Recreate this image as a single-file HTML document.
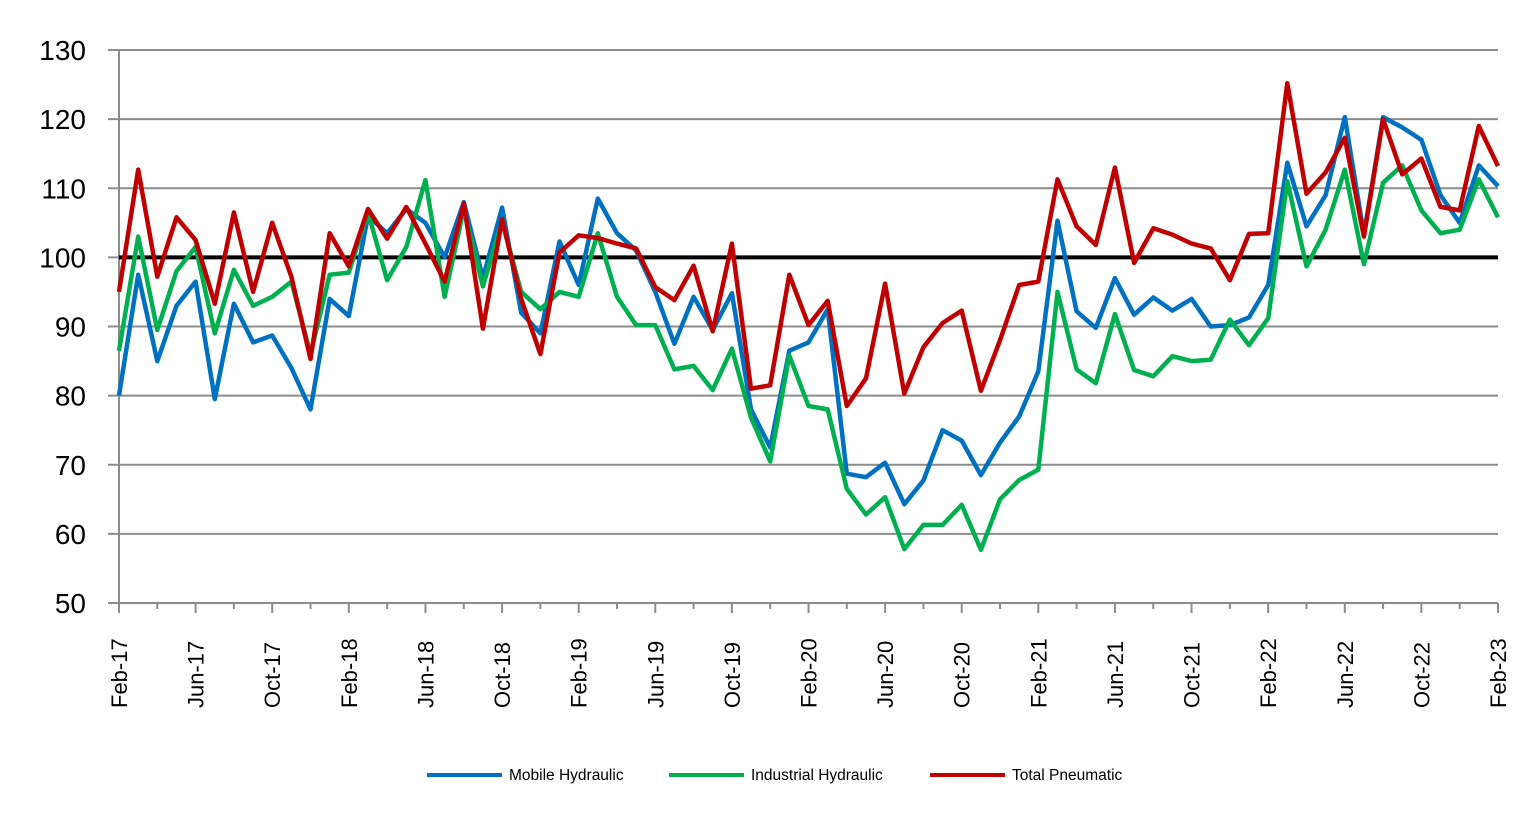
<!DOCTYPE html>
<html><head><meta charset="utf-8"><style>
html,body{margin:0;padding:0;background:#fff;}
svg{display:block;font-family:"Liberation Sans",sans-serif;}
</style></head><body>
<svg id="c" width="1540" height="814" xmlns="http://www.w3.org/2000/svg"></svg>
<script>
const blue=[80,97.5,85,93,96.5,79.5,93.3,87.7,88.7,84,78,94,91.5,106,103.5,107,105,100,108,97,107.2,92,89,102.3,96,108.5,103.5,101,95,87.5,94.3,89.5,94.8,78,72.5,86.5,87.7,92.5,68.7,68.2,70.3,64.3,67.7,75,73.5,68.5,73.2,77,83.5,105.3,92.2,89.8,97,91.7,94.2,92.3,94,90,90.2,91.3,96,113.7,104.5,109,120.3,103.3,120.3,118.8,117,109,105,113.3,110.3];
const green=[86.5,103,89.5,98,101.5,89,98.2,93,94.3,96.5,86,97.5,97.8,106.5,96.7,101.5,111.2,94.3,107,95.8,105.2,95,92.5,95,94.3,103.5,94.3,90.2,90.2,83.8,84.3,80.8,86.8,76.8,70.5,85.8,78.5,78,66.5,62.8,65.3,57.8,61.3,61.3,64.2,57.7,65,67.8,69.3,95,83.8,81.8,91.8,83.7,82.8,85.7,85,85.2,91,87.3,91.2,111,98.7,104,112.7,99,110.8,113.3,106.8,103.5,104,111.3,105.8];
const red=[95,112.7,97.2,105.8,102.5,93.3,106.5,95,105,97.2,85.3,103.5,98.7,107,102.7,107.3,102,96.5,107.8,89.7,105.5,94,86,100.7,103.2,102.8,102,101.3,95.7,93.8,98.8,89.3,102,81,81.5,97.5,90.2,93.7,78.5,82.5,96.2,80.3,87,90.5,92.3,80.7,88,96,96.5,111.3,104.5,101.8,113,99.2,104.2,103.3,102,101.3,96.7,103.4,103.5,125.2,109.2,112.3,117.3,103,120,112,114.3,107.3,106.8,119,113.2];
const X=i=>119+i*(1379/72), Y=v=>50+(130-v)*553/80;
let s='';
for(let v=50;v<=130;v+=10){const y=Y(v);
 if(v>50) s+=`<line x1="119" x2="1498" y1="${y}" y2="${y}" stroke="#8c8c8c" stroke-width="2"/>`;
 s+=`<line x1="108" x2="119" y1="${y}" y2="${y}" stroke="#8c8c8c" stroke-width="2"/>`;
 s+=`<text x="86" y="${y+10}" font-size="28" text-anchor="end" fill="#000">${v}</text>`;}
s+=`<line x1="119" x2="119" y1="50" y2="603" stroke="#8c8c8c" stroke-width="2"/>`;
s+=`<line x1="108" x2="1498" y1="603" y2="603" stroke="#8c8c8c" stroke-width="2"/>`;
const mon=['Feb','Jun','Oct'];
for(let i=0;i<=72;i+=2){const x=X(i);s+=`<line x1="${x}" x2="${x}" y1="603" y2="${i%4==0?613:609}" stroke="#8c8c8c" stroke-width="2"/>`;
 if(i%4==0){const m=mon[(i/4)%3]; const yy=17+Math.floor((1+i)/12);
  s+=`<text transform="translate(${x+8},708) rotate(-90)" font-size="22" fill="#000">${m}-${yy}</text>`;}}
s+=`<line x1="119" x2="1498" y1="${Y(100)}" y2="${Y(100)}" stroke="#000" stroke-width="4"/>`;
const line=(d,c)=>`<polyline fill="none" stroke="${c}" stroke-width="4.5" stroke-linejoin="round" points="${d.map((v,i)=>X(i).toFixed(1)+','+Y(v).toFixed(1)).join(' ')}"/>`;
s+=line(blue,'#0070c0')+line(green,'#00b050')+line(red,'#c00000');
const lg=[[427,'#0070c0','Mobile Hydraulic'],[669,'#00b050','Industrial Hydraulic'],[930,'#c00000','Total Pneumatic']];
for(const [x,c,t] of lg){s+=`<line x1="${x}" x2="${x+75}" y1="775" y2="775" stroke="${c}" stroke-width="4"/><text x="${x+82}" y="780" font-size="15.5" fill="#000">${t}</text>`;}
document.getElementById('c').innerHTML=s;
</script>
</body></html>
